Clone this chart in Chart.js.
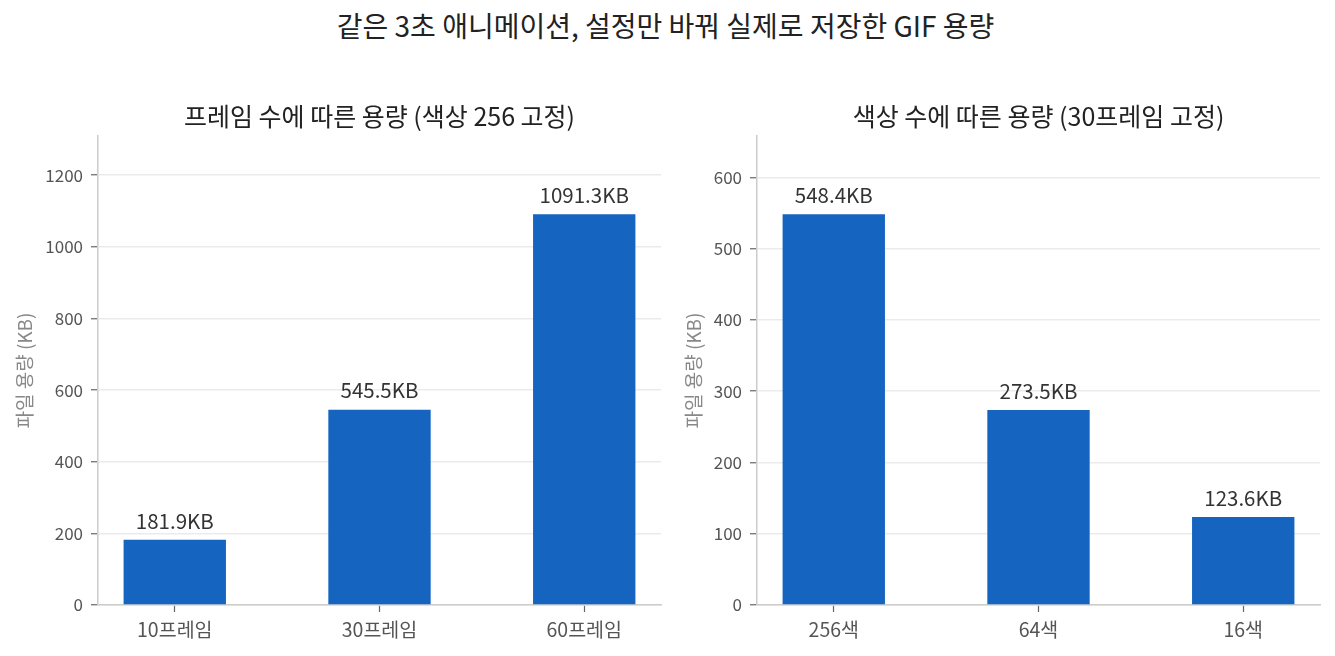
<!DOCTYPE html>
<html>
<head>
<meta charset="utf-8">
<script src="https://cdn.jsdelivr.net/npm/chart.js@4/dist/chart.umd.min.js"></script>
<style>
  html, body { margin: 0; padding: 0; background: #fff; }
  body { width: 1335px; height: 656px; position: relative; overflow: hidden; font-family: "Noto Sans CJK KR", sans-serif; }
  #title { position: absolute; left: 0; top: 8px; width: 1331px; text-align: center; font-size: 28px; color: #222; line-height: 34px; }
  .box { position: absolute; top: 80px; height: 576px; }
  #b1 { left: 0; width: 670px; }
  #b2 { left: 670px; width: 665px; }
</style>
</head>
<body>
<div id="title">같은 3초 애니메이션, 설정만 바꿔 실제로 저장한 GIF 용량</div>
<div class="box" id="b1"><canvas id="c1"></canvas></div>
<div class="box" id="b2"><canvas id="c2"></canvas></div>
<script>
const frameCategories = ['10프레임', '30프레임', '60프레임'];
const frameSizes = [181.9, 545.5, 1091.3];
const colorCategories = ['256색', '64색', '16색'];
const colorSizes = [548.4, 273.5, 123.6];
const leftTitle = '프레임 수에 따른 용량 (색상 256 고정)';
const rightTitle = '색상 수에 따른 용량 (30프레임 고정)';
const yAxisTitle = '파일 용량 (KB)';
const barColor = '#1565C0';
const FONT = '"Noto Sans CJK KR", sans-serif';

const labelPlugin = {
  id: 'barLabels',
  afterDatasetsDraw(chart) {
    const ctx = chart.ctx;
    const meta = chart.getDatasetMeta(0);
    const ds = chart.data.datasets[0];
    ctx.save();
    ctx.font = '20.5px ' + FONT;
    ctx.fillStyle = '#333';
    ctx.textAlign = 'center';
    ctx.textBaseline = 'middle';
    meta.data.forEach((el, i) => {
      ctx.fillText(ds.data[i].y.toFixed(1) + 'KB', el.x, el.y - 19);
    });
    // subplot title centred over the plot area
    const a = chart.chartArea;
    ctx.font = '25px ' + FONT;
    ctx.fillStyle = '#222';
    ctx.fillText(chart.options.plugins.subTitle.text, (a.left + a.right) / 2, a.top - 20);
    ctx.restore();
  }
};

function makeChart(id, cats, vals, title, yStep, yAxisWidth, padRight, titleTop) {
  const maxV = Math.max(...vals) * 1.2;
  return new Chart(document.getElementById(id), {
    type: 'bar',
    data: {
      datasets: [{
        data: vals.map((v, i) => ({ x: i, y: v })),
        backgroundColor: barColor,
        borderWidth: 0,
        categoryPercentage: 1,
        barPercentage: 0.5
      }]
    },
    options: {
      responsive: true,
      maintainAspectRatio: false,
      animation: false,
      events: [],
      layout: { padding: { left: 0, right: padRight, top: 56, bottom: 0 } },
      plugins: {
        legend: { display: false },
        tooltip: { enabled: false },
        title: { display: false },
        subTitle: { text: title }
      },
      scales: {
        x: {
          type: 'linear',
          offset: false,
          min: -0.375,
          max: 2.375,
          afterBuildTicks(scale) { scale.ticks = cats.map((c, i) => ({ value: i })); },
          afterFit(scale) { scale.height = 51; },
          ticks: {
            callback: (v) => cats[v] !== undefined ? cats[v] : '',
            color: '#555',
            font: { family: FONT, size: 19.5 },
            padding: 6,
            maxRotation: 0,
            autoSkip: false
          },
          grid: { offset: false, drawOnChartArea: false, drawTicks: true, tickLength: 7, tickColor: '#666', tickWidth: 1.2 },
          border: { display: true, color: '#ccc', width: 1.5 }
        },
        y: {
          min: 0,
          max: maxV,
          afterFit(scale) { scale.width = yAxisWidth; },
          ticks: {
            stepSize: yStep,
            includeBounds: false,
            callback: (v) => String(v),
            color: '#555',
            font: { family: FONT, size: 17 },
            padding: 8
          },
          grid: { color: '#ebebeb', lineWidth: 1.5, drawTicks: true, tickLength: 7, tickColor: '#666', tickWidth: 1.2 },
          border: { display: true, color: '#ccc', width: 1.5 },
          title: {
            display: true,
            text: yAxisTitle,
            color: '#888',
            font: { family: FONT, size: 19 },
            padding: { top: titleTop, bottom: 0 }
          }
        }
      }
    },
    plugins: [labelPlugin]
  });
}

makeChart('c1', frameCategories, frameSizes, leftTitle, 200, 98, 9, 13.6);
makeChart('c2', colorCategories, colorSizes, rightTitle, 100, 87, 15, 12.6);
</script>
</body>
</html>
